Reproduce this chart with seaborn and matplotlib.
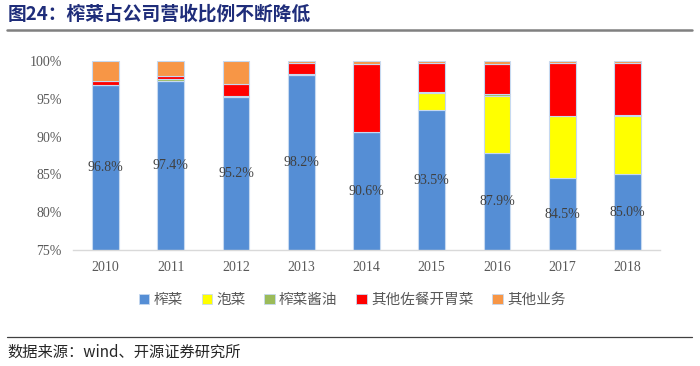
import numpy as np
import pandas as pd
import matplotlib
matplotlib.use("Agg")
import matplotlib.pyplot as plt
import seaborn as sns
from matplotlib.lines import Line2D
from matplotlib.patches import Patch

# Data (share of revenue, %)
years = ["2010", "2011", "2012", "2013", "2014", "2015", "2016", "2017", "2018"]
zhacai = [96.8, 97.4, 95.2, 98.2, 90.6, 93.5, 87.9, 84.5, 85.0]
paocai = [0.0, 0.0, 0.0, 0.0, 0.0, 2.3, 7.5, 8.2, 7.8]
jiangyou = [0.1, 0.2, 0.2, 0.1, 0.0, 0.1, 0.2, 0.1, 0.1]
kaiweicai = [0.5, 0.4, 1.6, 1.5, 9.0, 3.9, 4.0, 7.0, 6.9]
qita = [2.6, 2.0, 3.0, 0.2, 0.4, 0.2, 0.4, 0.2, 0.2]

series_names = ["榨菜", "泡菜", "榨菜酱油", "其他佐餐开胃菜", "其他业务"]
series_vals = [zhacai, paocai, jiangyou, kaiweicai, qita]
colors = ["#558ed5", "#ffff00", "#9bbb59", "#ff0000", "#f79646"]

sns.set_style("white")
plt.rcParams["font.family"] = ["Noto Sans CJK SC", "DejaVu Sans"]

fig = plt.figure(figsize=(7, 3.66), dpi=100)
ax = fig.add_axes([0.104, 0.317, 0.839, 0.516])

df = pd.DataFrame({"year": years})
bottom = np.zeros(len(years))
for name, vals, col in zip(series_names, series_vals, colors):
    df[name] = vals
    sns.barplot(data=df, x="year", y=name, color=col, bottom=bottom,
                width=0.41, edgecolor="#c6d9f0", linewidth=0.8,
                saturation=1, ax=ax, order=years)
    bottom = bottom + np.array(vals)

# value labels in the visible blue part
for i, v in enumerate(zhacai):
    ax.text(i, (75 + v) / 2, f"{v:.1f}%", ha="center", va="center",
            fontsize=10, color="#404040", family="Liberation Serif")

ax.set_ylim(75, 100)
ax.set_xlim(-0.5, 8.5)
ax.set_yticks([75, 80, 85, 90, 95, 100])
ax.set_yticklabels([f"{t}%" for t in [75, 80, 85, 90, 95, 100]])
ax.set_xlabel("")
ax.set_ylabel("")
for lab in ax.get_xticklabels() + ax.get_yticklabels():
    lab.set_family("Liberation Serif")
    lab.set_fontsize(10)
    lab.set_color("#595959")
ax.tick_params(axis="both", length=0, pad=8)
for s in ["top", "right", "left"]:
    ax.spines[s].set_visible(False)
ax.spines["bottom"].set_color("#d9d9d9")
ax.spines["bottom"].set_linewidth(1)

handles = [Patch(facecolor=c, edgecolor="#c6d9f0", linewidth=0.6) for c in colors]
leg = fig.legend(handles, series_names, loc="center", bbox_to_anchor=(0.503, 0.18),
                 ncol=5, frameon=False, fontsize=10.5, handlelength=0.7,
                 handleheight=0.7, handletextpad=0.3, columnspacing=1.3)
for t in leg.get_texts():
    t.set_color("#595959")

# title and source
fig.text(0.011, 0.963, "图24：榨菜占公司营收比例不断降低", fontsize=13.5,
         fontweight="bold", color="#1f2d7a", va="center", ha="left")
fig.add_artist(Line2D([0.01, 0.988], [0.918, 0.918], color="#808080", linewidth=1.8))
fig.add_artist(Line2D([0.01, 0.988], [0.079, 0.079], color="#404040", linewidth=0.9))
fig.text(0.011, 0.037, "数据来源：wind、开源证券研究所", fontsize=11,
         color="#262626", va="center", ha="left")

fig.savefig("out.png", dpi=100)
